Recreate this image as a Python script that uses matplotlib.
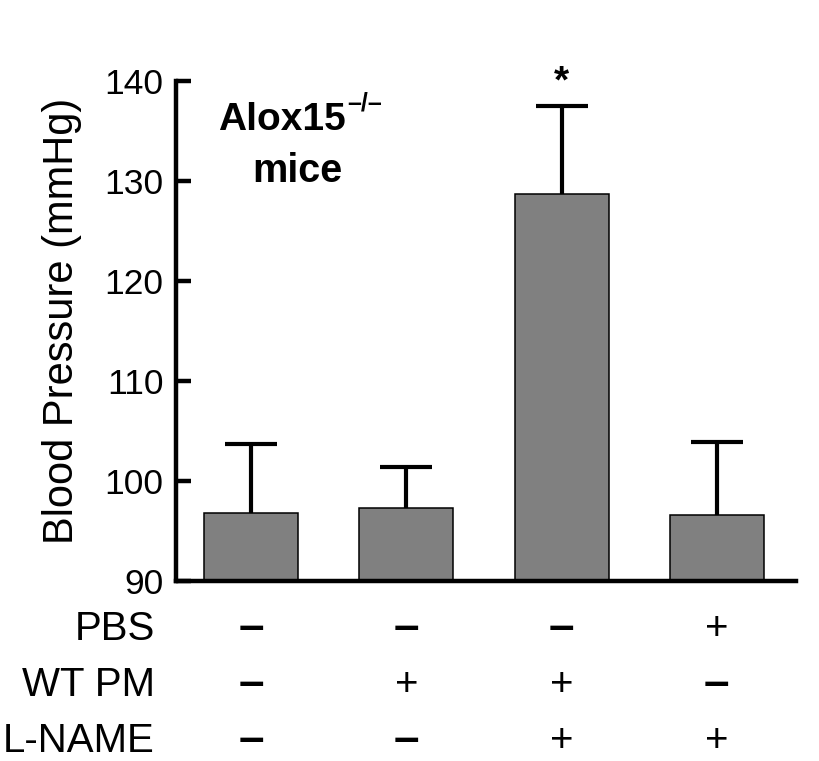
import matplotlib
matplotlib.use('Agg')
import matplotlib.pyplot as plt
import matplotlib.transforms as mtransforms

plt.rcParams['font.family'] = 'Liberation Sans'

# values
conditions = ['PBS', 'WT PM', 'L-NAME']
pbs = ['-', '-', '-', '+']
wt_pm = ['-', '+', '+', '-']
l_name = ['-', '-', '+', '+']
bp_mean = [96.8, 97.3, 128.7, 96.6]
bp_err = [6.9, 4.1, 8.8, 7.3]
signif = ['', '', '*', '']
y_ticks = [90, 100, 110, 120, 130, 140]

fig = plt.figure(figsize=(8.19, 7.61), dpi=100)
ax = fig.add_axes([0.2149, 0.2365, 0.757, 0.657])

x = list(range(len(bp_mean)))
ax.bar(x, bp_mean, width=0.605, color='#808080', edgecolor='black',
       linewidth=1.1, zorder=2)

# only the upper half of the error bar is shown
eb = ax.errorbar(x, bp_mean, yerr=[[0] * len(bp_err), bp_err], fmt='none',
                 ecolor='black', elinewidth=3, capsize=18.4, capthick=3, zorder=3)
eb[1][0].set_visible(False)

for xi, m, e, s in zip(x, bp_mean, bp_err, signif):
    if s:
        ax.text(xi, m + e + 1.4, s, ha='center', va='baseline',
                fontsize=28, fontweight='bold')

ax.set_xlim(-0.483, 3.51)
ax.set_ylim(90, 140)
ax.set_yticks(y_ticks)
ax.set_xticks([])
ax.spines['top'].set_visible(False)
ax.spines['right'].set_visible(False)
ax.spines['left'].set_linewidth(3.2)
ax.spines['bottom'].set_linewidth(3.2)
ax.tick_params(axis='y', direction='in', length=11, width=3.2,
               labelsize=25.5, pad=9)

ax.set_ylabel('Blood Pressure (mmHg)', fontsize=30)
ax.yaxis.set_label_coords(-0.152, 0.521)

# strain label
alox = ax.text(-0.212, 135.1, 'Alox15', fontsize=28, fontweight='bold',
               ha='left', va='baseline')
ax.annotate('\u2013/\u2013', xy=(1, 1), xycoords=alox, xytext=(1, -1),
            textcoords='offset points', fontsize=18, fontweight='bold',
            ha='left', va='center')
ax.text(0.296, 129.9, 'mice', fontsize=28.5, fontweight='bold',
        ha='center', va='baseline')

# treatment table under the bars
row_y = [0.159, 0.085, 0.012]
trans = mtransforms.blended_transform_factory(ax.transData, fig.transFigure)
for yy, name, signs in zip(row_y, conditions, [pbs, wt_pm, l_name]):
    fig.text(0.189, yy, name, ha='right', va='baseline', fontsize=29)
    for xi, s in zip(x, signs):
        if s == '+':
            ax.text(xi, yy, '+', transform=trans, ha='center', va='baseline',
                    fontsize=29, clip_on=False)
        else:
            ax.text(xi, yy, '\u2013', transform=trans, ha='center',
                    va='baseline', fontsize=33, fontweight='bold', clip_on=False)

fig.savefig('out.png', dpi=100)
